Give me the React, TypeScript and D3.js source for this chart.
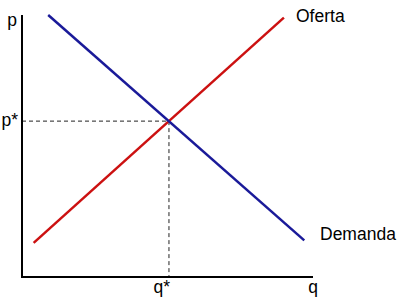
import React from "react";
import * as d3 from "d3";

const supplyQ = [4, 90];
const supplyP = [13, 99];
const demandQ = [9, 97];
const demandP = [100, 14];
const eqQ = 50.5;
const eqP = 59.5;
const axisLabels = { p: "p", q: "q", pStar: "p*", qStar: "q*" };
const supplyLabel = "Oferta";
const demandLabel = "Demanda";

const W = 397;
const H = 305;

export default function App() {
  const x = d3.scaleLinear().domain([0, 100]).range([22, 313]);
  const y = d3.scaleLinear().domain([0, 100]).range([277, 15]);
  const line = d3
    .line<[number, number]>()
    .x((d) => x(d[0]))
    .y((d) => y(d[1]));
  const supply = supplyQ.map((q, i) => [q, supplyP[i]] as [number, number]);
  const demand = demandQ.map((q, i) => [q, demandP[i]] as [number, number]);
  const font = "'Liberation Sans', Arial, sans-serif";
  const fs = 17.5;
  return (
    <svg
      width={W}
      height={H}
      style={{ position: "absolute", left: 0, top: 0, background: "#fff" }}
      fontFamily={font}
      fontSize={fs}
    >
      <rect width={W} height={H} fill="#fff" />
      {/* dashed guides */}
      <line x1={x(0)} x2={x(eqQ)} y1={y(eqP)} y2={y(eqP)} stroke="#222" strokeWidth={1} strokeDasharray="4,3" />
      <line x1={x(eqQ)} x2={x(eqQ)} y1={y(eqP)} y2={y(0)} stroke="#222" strokeWidth={1} strokeDasharray="4,3" />
      {/* axes */}
      <path d={`M${x(0)},${y(100)}V${y(0)}H${x(100)}`} fill="none" stroke="#000" strokeWidth={2} />
      {/* curves */}
      <path d={line(supply) || ""} fill="none" stroke="#cc1111" strokeWidth={2.5} />
      <path d={line(demand) || ""} fill="none" stroke="#1a1a99" strokeWidth={2.5} />
      {/* labels */}
      <text x={x(0) - 5} y={26} textAnchor="end">{axisLabels.p}</text>
      <text x={x(0) - 4} y={y(eqP) + 5} textAnchor="end">{axisLabels.pStar}</text>
      <text x={x(eqQ) + 1} y={293} textAnchor="end">{axisLabels.qStar}</text>
      <text x={x(100)} y={293} textAnchor="middle">{axisLabels.q}</text>
      <text x={296} y={22}>{supplyLabel}</text>
      <text x={320} y={240}>{demandLabel}</text>
    </svg>
  );
}
